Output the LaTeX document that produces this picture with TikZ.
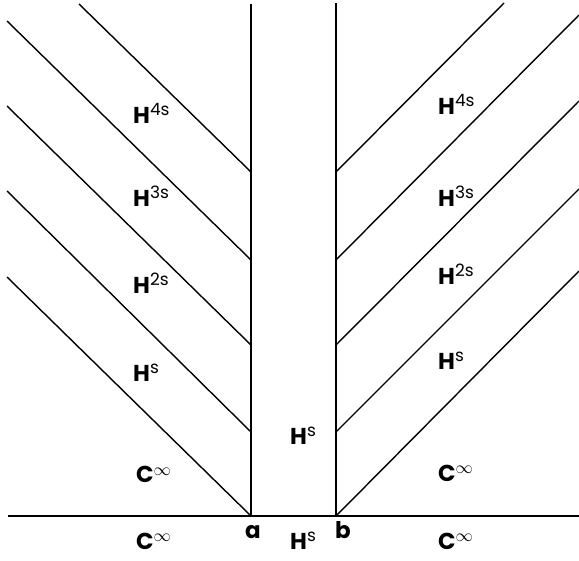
\documentclass[tikz,border=0pt]{standalone}
\usepackage{fontspec}
\setmainfont{Poppins}
\newcommand\myup[1]{\raisebox{8pt}{\fontsize{17}{17}\selectfont\mdseries #1}}
\begin{document}
\begin{tikzpicture}[x=1pt,y=-1pt,
  ln/.style={line width=1.4pt,black},
  lab/.style={anchor=base west,inner sep=0pt,font=\fontsize{23}{23}\selectfont\bfseries},
  pt/.style={anchor=base west,inner sep=0pt,font=\fontsize{23}{23}\selectfont\bfseries}]
\useasboundingbox (0,0) rectangle (579,561);
% frame coordinates
\coordinate (axL) at (8,516);
\coordinate (axR) at (579,516);
\coordinate (a) at (251,516);
\coordinate (b) at (336,516);
\coordinate (aT) at (251,4);
\coordinate (bT) at (336,3);
% vertical joints
\coordinate (a1) at (251,432);
\coordinate (a2) at (251,345);
\coordinate (a3) at (251,260);
\coordinate (a4) at (251,172);
\coordinate (b1) at (336,432);
\coordinate (b2) at (336,345);
\coordinate (b3) at (336,260);
\coordinate (b4) at (336,172);
% free ends
\coordinate (l0) at (7,277);
\coordinate (l1) at (7,191);
\coordinate (l2) at (7,106);
\coordinate (l3) at (7,21);
\coordinate (l4) at (79,4);
\coordinate (r0) at (579,271);
\coordinate (r1) at (579,189);
\coordinate (r2) at (579,101);
\coordinate (r3) at (579,15);
\coordinate (r4) at (504,3);
% lines
\draw[ln] (axL) -- (axR);
\draw[ln] (a) -- (aT);
\draw[ln] (b) -- (bT);
\draw[ln] (a) -- (l0);
\draw[ln] (a1) -- (l1);
\draw[ln] (a2) -- (l2);
\draw[ln] (a3) -- (l3);
\draw[ln] (a4) -- (l4);
\draw[ln] (b) -- (r0);
\draw[ln] (b1) -- (r1);
\draw[ln] (b2) -- (r2);
\draw[ln] (b3) -- (r3);
\draw[ln] (b4) -- (r4);
% labels left
\node[lab] (L4) at (133,124) {H\myup{4s}};
\node[lab] (L3) at (133,207) {H\myup{3s}};
\node[lab] (L2) at (133,294) {H\myup{2s}};
\node[lab] (L1) at (133,382) {H\myup{s}};
\node[lab] (L0) at (136,483) {C\myup{$\infty$}};
\node[lab] (LB) at (136,550) {C\myup{$\infty$}};
% labels right
\node[lab] (R4) at (438,115) {H\myup{4s}};
\node[lab] (R3) at (438,207) {H\myup{3s}};
\node[lab] (R2) at (438,285) {H\myup{2s}};
\node[lab] (R1) at (438,370) {H\myup{s}};
\node[lab] (R0) at (438,482) {C\myup{$\infty$}};
\node[lab] (RB) at (438,550) {C\myup{$\infty$}};
% middle
\node[lab] (M1) at (290,445) {H\myup{s}};
\node[lab] (MB) at (290,550) {H\myup{s}};
\node[pt] (na) at (245,538) {a};
\node[pt] (nb) at (335,538) {b};
\end{tikzpicture}
\end{document}
